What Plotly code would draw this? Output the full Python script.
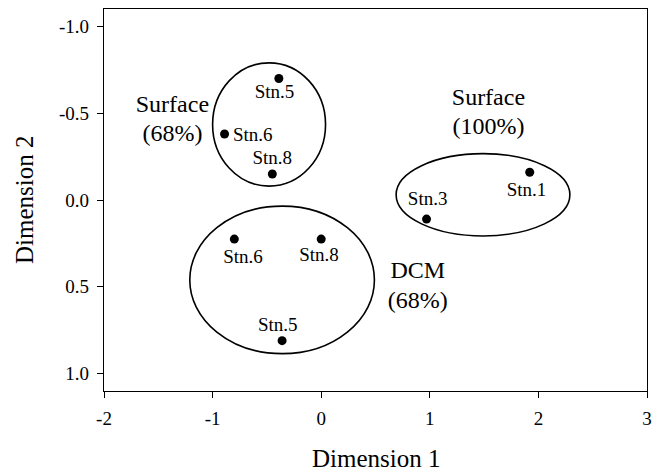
import plotly.graph_objects as go

# Station points (Dimension 1, Dimension 2)
pt_labels = ["Stn.5", "Stn.6", "Stn.8", "Stn.1", "Stn.3", "Stn.6", "Stn.8", "Stn.5"]
pt_x = [-0.39, -0.89, -0.45, 1.92, 0.97, -0.80, 0.00, -0.36]
pt_y = [-0.70, -0.38, -0.15, -0.16, 0.11, 0.225, 0.225, 0.81]

# Station label positions
lab_x = [-0.43, -0.63, -0.45, 1.89, 0.98, -0.72, -0.02, -0.40]
lab_y = [-0.615, -0.37, -0.235, -0.05, 0.0, 0.335, 0.325, 0.725]

# Group ellipses: center x, center y, radius x, radius y
ell_cx = [-0.48, 1.49, -0.36]
ell_cy = [-0.435, -0.03, 0.46]
ell_rx = [0.52, 0.80, 0.85]
ell_ry = [0.355, 0.237, 0.425]

# Group labels
grp_line1 = ["Surface", "Surface", "DCM"]
grp_line2 = ["(68%)", "(100%)", "(68%)"]
grp_x = [-1.37, 1.54, 0.89]
grp_y1 = [-0.54, -0.58, 0.415]
grp_y2 = [-0.375, -0.415, 0.585]

x_ticks = [-2, -1, 0, 1, 2, 3]
x_ticktext = ["-2", "-1", "0", "1", "2", "3"]
y_ticks = [-1.0, -0.5, 0.0, 0.5, 1.0]
y_ticktext = ["-1.0", "-0.5", "0.0", "0.5", "1.0"]

FONT = "Liberation Serif, Times New Roman, serif"

fig = go.Figure()
fig.add_trace(go.Scatter(
    x=pt_x, y=pt_y, mode="markers",
    marker=dict(color="black", size=9),
    showlegend=False, hoverinfo="skip"))

fig.add_trace(go.Scatter(
    x=lab_x, y=lab_y, mode="text", text=pt_labels,
    textfont=dict(family=FONT, size=19, color="black"),
    showlegend=False, hoverinfo="skip"))

fig.add_trace(go.Scatter(
    x=grp_x, y=grp_y1, mode="text", text=grp_line1,
    textfont=dict(family=FONT, size=24, color="black"),
    showlegend=False, hoverinfo="skip"))
fig.add_trace(go.Scatter(
    x=grp_x, y=grp_y2, mode="text", text=grp_line2,
    textfont=dict(family=FONT, size=24, color="black"),
    showlegend=False, hoverinfo="skip"))

for cx, cy, rx, ry in zip(ell_cx, ell_cy, ell_rx, ell_ry):
    fig.add_shape(type="circle", xref="x", yref="y",
                  x0=cx - rx, x1=cx + rx, y0=cy - ry, y1=cy + ry,
                  line=dict(color="black", width=1.6))

fig.add_annotation(text="Dimension 1", xref="paper", yref="paper",
                   x=0.5, y=0, xanchor="center", yanchor="middle",
                   yshift=-67, showarrow=False,
                   font=dict(family=FONT, size=25, color="black"))
fig.add_annotation(text="Dimension 2", xref="paper", yref="paper",
                   x=0, y=0.5, xanchor="center", yanchor="middle",
                   xshift=-80, textangle=-90, showarrow=False,
                   font=dict(family=FONT, size=25, color="black"))

fig.update_layout(
    template="none",
    width=654, height=475,
    margin=dict(l=104, r=7, t=9, b=84),
    paper_bgcolor="white", plot_bgcolor="white",
    font=dict(family=FONT, color="black", size=19),
)
fig.update_xaxes(
    range=[-2, 3], tickvals=x_ticks, ticktext=x_ticktext,
    ticks="outside", ticklen=6, automargin=False, ticklabelstandoff=4,
    tickcolor="black", showline=True, linecolor="black", linewidth=1.2,
    mirror=True, showgrid=False, zeroline=False,
    tickfont=dict(family=FONT, size=19, color="black"))
fig.update_yaxes(
    range=[1.1, -1.1], tickvals=y_ticks, ticktext=y_ticktext,
    ticks="outside", ticklen=6, automargin=False, ticklabelstandoff=4,
    tickcolor="black", showline=True, linecolor="black", linewidth=1.2,
    mirror=True, showgrid=False, zeroline=False,
    tickfont=dict(family=FONT, size=19, color="black"))

# remove the default page margin so the figure fills the window exactly
fig.write_html(
    "out.html",
    config={"displayModeBar": False},
    post_script="document.body.style.margin='0';"
                "document.documentElement.style.overflow='hidden';")
